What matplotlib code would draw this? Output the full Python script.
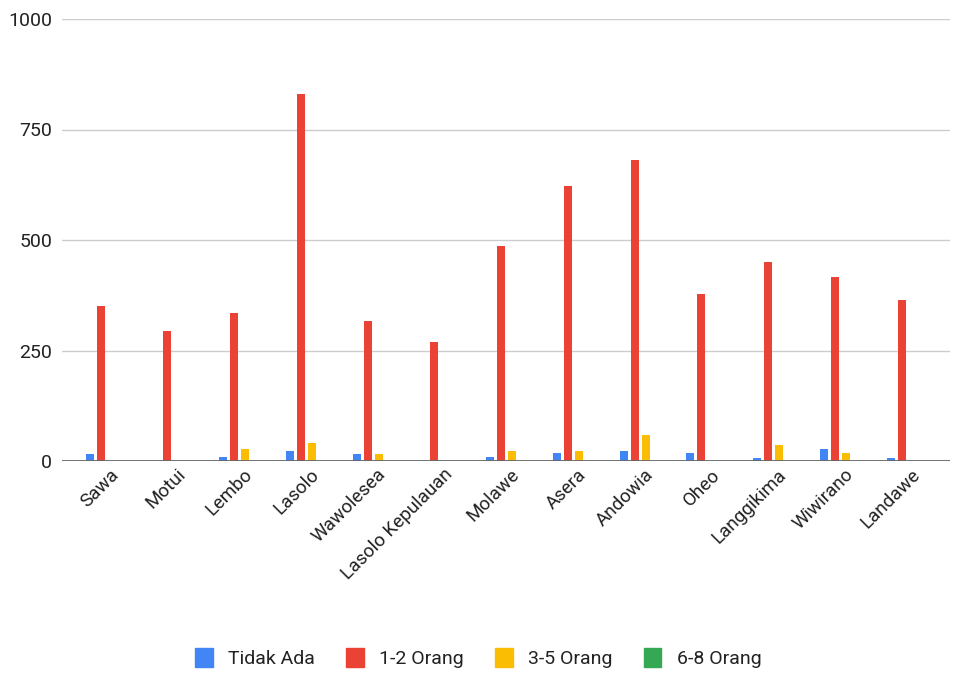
import matplotlib
matplotlib.use("Agg")
import matplotlib.pyplot as plt
import matplotlib.transforms as mtransforms
from matplotlib.patches import Patch
import numpy as np

categories = ["Sawa", "Motui", "Lembo", "Lasolo", "Wawolesea", "Lasolo Kepulauan",
              "Molawe", "Asera", "Andowia", "Oheo", "Langgikima", "Wiwirano", "Landawe"]
series_names = ["Tidak Ada", "1-2 Orang", "3-5 Orang", "6-8 Orang"]
tidak_ada = [15, 1, 10, 23, 15, 1, 10, 19, 23, 19, 6, 28, 6]
orang_1_2 = [350, 294, 335, 830, 317, 269, 486, 622, 681, 378, 450, 416, 364]
orang_3_5 = [1, 1, 28, 41, 15, 1, 23, 23, 58, 1, 36, 19, 1]
orang_6_8 = [0, 1, 1, 1, 0, 0, 1, 1, 1, 0, 1, 0, 0]
y_ticks = [0, 250, 500, 750, 1000]

colors = ["#4285F4", "#EA4335", "#FBBC04", "#34A853"]
series = [tidak_ada, orang_1_2, orang_3_5, orang_6_8]

plt.rcParams['font.family'] = ['Roboto', 'DejaVu Sans']

fig = plt.figure(figsize=(9.57, 6.74), dpi=100)
ax = fig.add_axes([62/957, 1 - 461/674, (950 - 62)/957, (461 - 19)/674])

x = np.arange(len(categories))
w = 0.12
step = 0.165
for k, (vals, c) in enumerate(zip(series, colors)):
    ax.bar(x + (k - 1.5) * step, vals, width=w, color=c, zorder=2)

ax.set_xlim(-0.66, 12.64)
ax.set_ylim(0, 1000)
ax.set_yticks(y_ticks)
ax.set_yticklabels([str(t) for t in y_ticks], fontsize=14, color="#222222")
ax.grid(axis="y", color="#cccccc", linewidth=1, zorder=0)
ax.axhline(0, color="#666666", linewidth=2, zorder=3)
for s in ax.spines.values():
    s.set_visible(False)
ax.tick_params(axis="y", length=0, pad=7)
ax.tick_params(axis="x", length=0)

ax.set_xticks(x)
ax.set_xticklabels(categories, rotation=45, ha="right", va="center",
                   rotation_mode="anchor", fontsize=13.5, color="#222222")
offset = mtransforms.ScaledTranslation(0.10, -0.06, fig.dpi_scale_trans)
for lbl in ax.get_xticklabels():
    lbl.set_transform(lbl.get_transform() + offset)

handles = [Patch(facecolor=c, edgecolor=c) for c in colors]
fig.legend(handles, series_names, loc="center", bbox_to_anchor=(0.5, 1 - 658/674),
           ncol=4, frameon=False, fontsize=14, handlelength=0.9, handleheight=1.1,
           handletextpad=0.8, columnspacing=1.6, labelcolor="#222222")

fig.savefig("out.png", dpi=100)
